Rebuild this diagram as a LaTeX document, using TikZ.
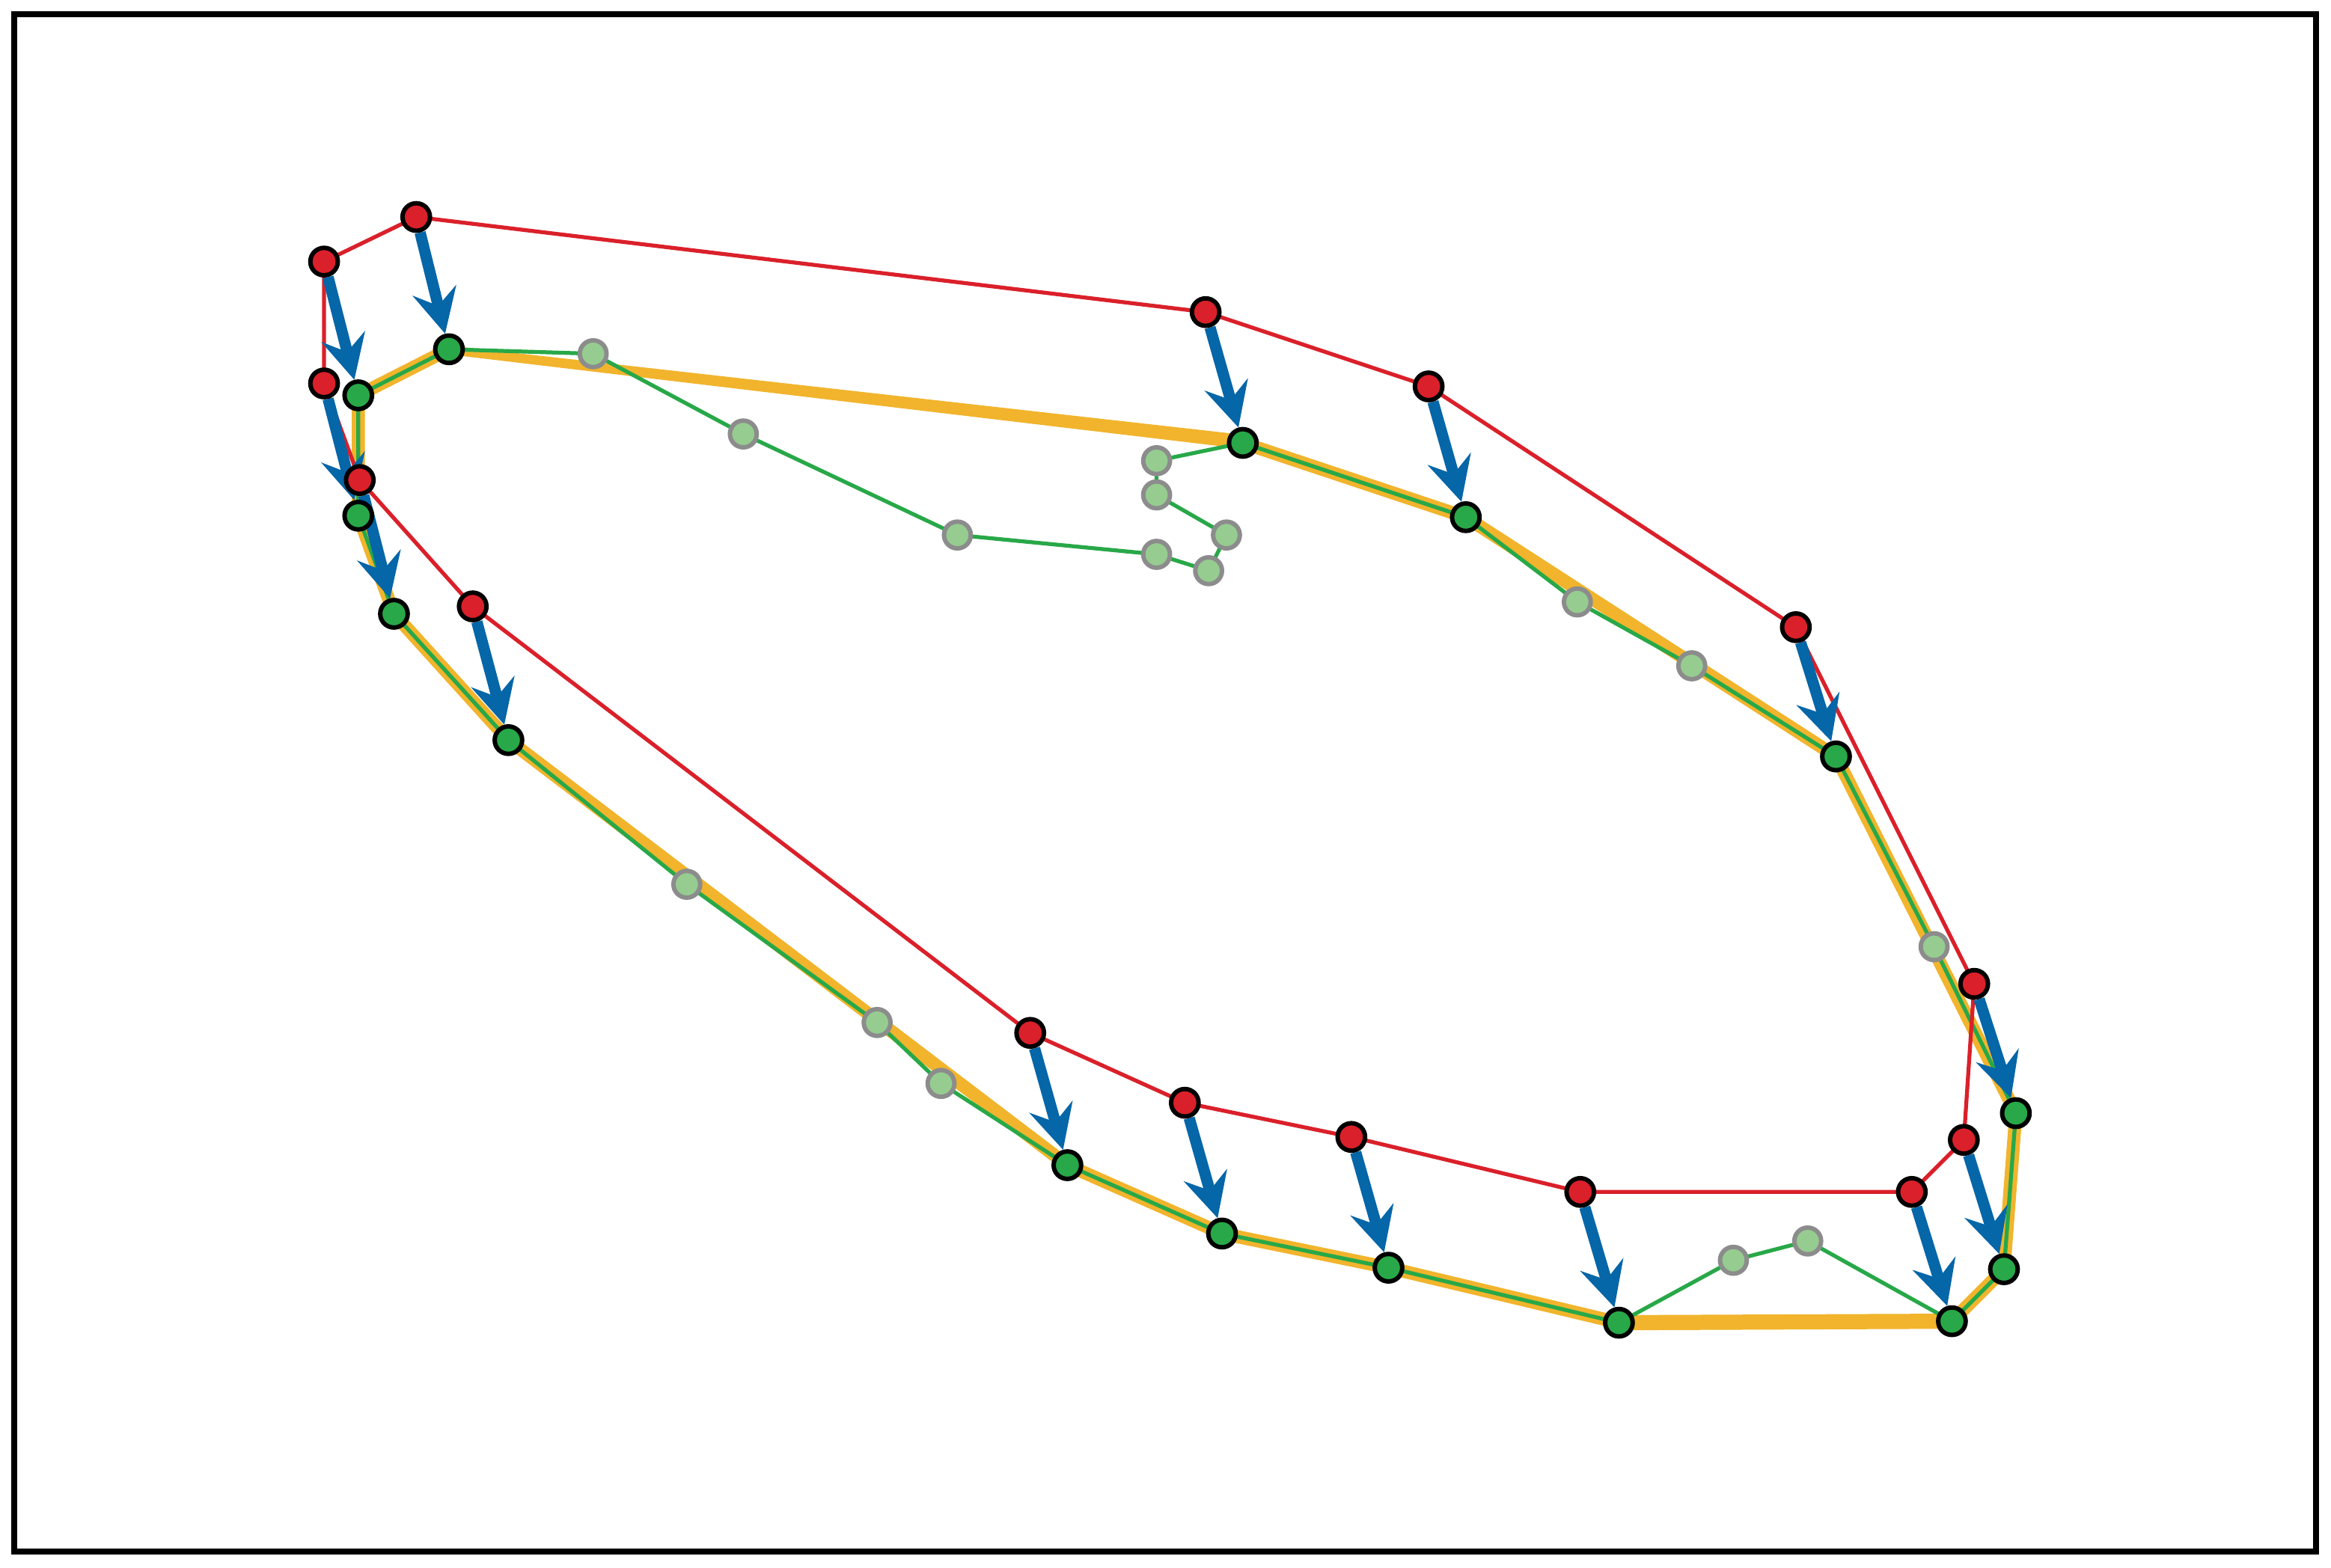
\documentclass[tikz,border=0pt]{standalone}
\usetikzlibrary{arrows.meta,calc}
\definecolor{cred}{RGB}{218,32,42}
\definecolor{cgreen}{RGB}{40,168,72}
\definecolor{clight}{RGB}{150,204,144}
\definecolor{cgray}{RGB}{140,140,140}
\definecolor{corange}{RGB}{241,180,44}
\definecolor{cblue}{RGB}{5,102,168}
\pgfdeclarelayer{bg}
\pgfdeclarelayer{mid}
\pgfsetlayers{bg,mid,main}
\begin{document}
\begin{tikzpicture}[x=0.02cm,y=-0.02cm,
  rnode/.style={circle,draw=black,fill=cred,line width=1.7pt,minimum size=0.37cm,inner sep=0pt},
  gnode/.style={circle,draw=black,fill=cgreen,line width=1.7pt,minimum size=0.37cm,inner sep=0pt},
  lnode/.style={circle,draw=cgray,fill=clight,line width=1.7pt,minimum size=0.36cm,inner sep=0pt},
  redline/.style={cred,line width=1.5pt,line join=round},
  greenline/.style={cgreen,line width=1.5pt,line join=round},
  orangeline/.style={corange,line width=5pt,line join=round},
  move/.style={cblue,line width=4.3pt,-{Stealth[length=17pt,width=17pt,inset=6pt]}}]
\useasboundingbox (0,0) rectangle (1568,1055);
\draw[line width=2.3pt] (9.8,9.8) rectangle (1558,1044);
% red nodes
\node[rnode] (r1) at (218,176) {};
\node[rnode] (r2) at (280,146) {};
\node[rnode] (r3) at (811,210) {};
\node[rnode] (r4) at (961,260) {};
\node[rnode] (r5) at (1208,422) {};
\node[rnode] (r6) at (1328,662) {};
\node[rnode] (r7) at (1321,767) {};
\node[rnode] (r8) at (1286,802) {};
\node[rnode] (r9) at (1063,802) {};
\node[rnode] (r10) at (909,765) {};
\node[rnode] (r11) at (797,742) {};
\node[rnode] (r12) at (693,695) {};
\node[rnode] (r13) at (318,408) {};
\node[rnode] (r14) at (242,323) {};
\node[rnode] (r15) at (218,258) {};
% light nodes
\node[lnode] (l1) at (399,238) {};
\node[lnode] (l2) at (500,292) {};
\node[lnode] (l3) at (644,360) {};
\node[lnode] (l4) at (778,373) {};
\node[lnode] (l5) at (813,384) {};
\node[lnode] (l6) at (825,360) {};
\node[lnode] (l7) at (778,333) {};
\node[lnode] (l8) at (778,310) {};
\node[lnode] (l9) at (1061,405) {};
\node[lnode] (l10) at (1138,448) {};
\node[lnode] (l11) at (1301,637) {};
\node[lnode] (l12) at (1216,835) {};
\node[lnode] (l13) at (1166,848) {};
\node[lnode] (l14) at (633,729) {};
\node[lnode] (l15) at (590,688) {};
\node[lnode] (l16) at (462,595) {};
% green nodes
\node[gnode] (g1) at (241,266) {};
\node[gnode] (g2) at (302,235) {};
\node[gnode] (g3) at (836,298) {};
\node[gnode] (g4) at (986,348) {};
\node[gnode] (g5) at (1235,509) {};
\node[gnode] (g6) at (1356,749) {};
\node[gnode] (g7) at (1348,854) {};
\node[gnode] (g8) at (1313,889) {};
\node[gnode] (g9) at (1089,890) {};
\node[gnode] (g10) at (934,853) {};
\node[gnode] (g11) at (822,830) {};
\node[gnode] (g12) at (718,784) {};
\node[gnode] (g13) at (342,498) {};
\node[gnode] (g14) at (265,413) {};
\node[gnode] (g15) at (241,347) {};
\begin{pgfonlayer}{bg}
  \draw[orangeline] (g3.center) -- (g4.center) -- (g5.center) -- (g6.center) -- (g7.center) -- (g8.center);
  \draw[orangeline] (g9.center) -- (g10.center) -- (g11.center) -- (g12.center) -- (g13.center) -- (g14.center) -- (g15.center) -- (g1.center) -- (g2.center);
  \draw[corange,line width=5.8pt] (g9.center) -- (g8.center);
  \fill[corange] ($(g2.center)+(0,-2.5)$) -- ($(g3.center)+(0,-5.5)$) -- ($(g3.center)+(0,4)$) -- ($(g2.center)+(0,3.5)$) -- cycle;
\end{pgfonlayer}
\begin{pgfonlayer}{mid}
  \draw[greenline] (g1.center) -- (g2.center) -- (l1.center) -- (l2.center) -- (l3.center) -- (l4.center) -- (l5.center) -- (l6.center) -- (l7.center) -- (l8.center) -- (g3.center) -- (g4.center) -- (l9.center) -- (l10.center) -- (g5.center) -- (l11.center) -- (g6.center) -- (g7.center) -- (g8.center) -- (l12.center) -- (l13.center) -- (g9.center) -- (g10.center) -- (g11.center) -- (g12.center) -- (l14.center) -- (l15.center) -- (l16.center) -- (g13.center) -- (g14.center) -- (g15.center) -- cycle;
  \draw[redline] (r1.center) -- (r2.center) -- (r3.center) -- (r4.center) -- (r5.center) -- (r6.center) -- (r7.center) -- (r8.center) -- (r9.center) -- (r10.center) -- (r11.center) -- (r12.center) -- (r13.center) -- (r14.center) -- (r15.center) -- cycle;
  \foreach \i in {1,...,15} {\draw[move] (r\i) -- (g\i);}
\end{pgfonlayer}
\end{tikzpicture}
\end{document}
